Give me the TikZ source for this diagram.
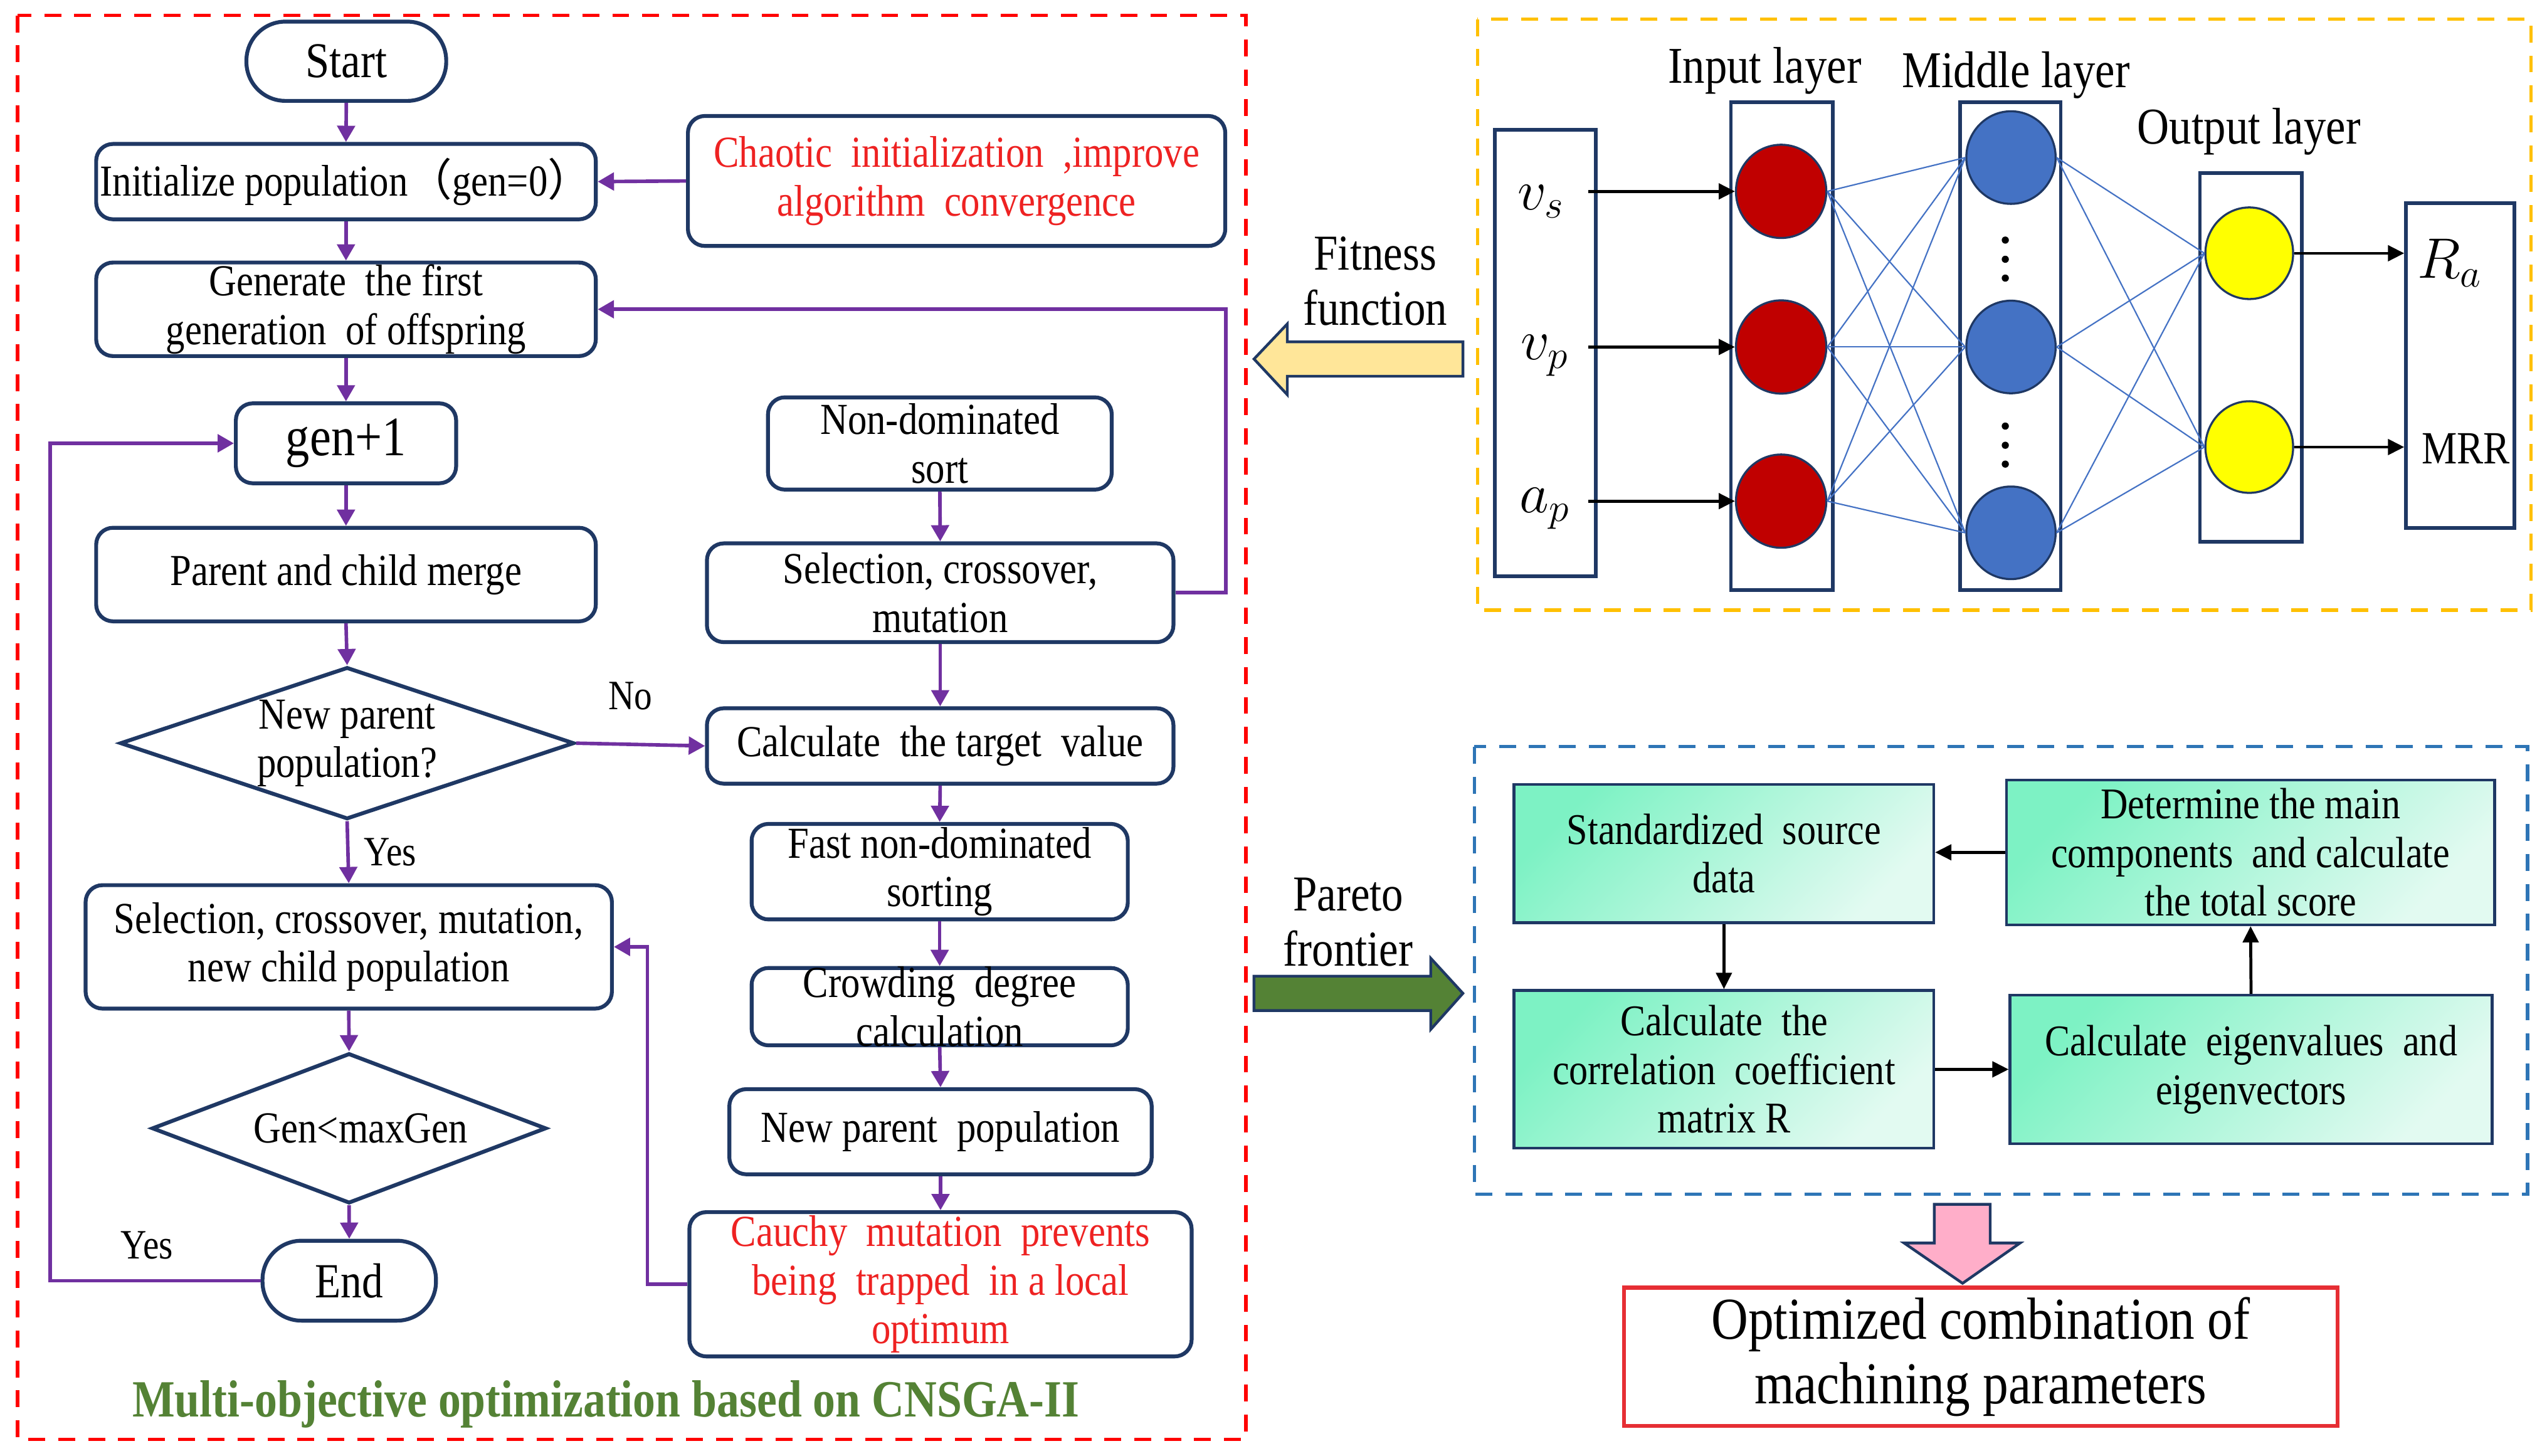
\RequirePackage{fix-cm}
\documentclass[tikz,border=0pt]{standalone}
\usepackage{fontspec}
\setmainfont{Liberation Serif}[FakeStretch=0.86]
\newfontfamily\cjkfont{Noto Sans CJK SC}
\usetikzlibrary{shapes.geometric,arrows.meta}
\definecolor{navy}{RGB}{31,56,100}
\definecolor{cpurple}{RGB}{112,48,160}
\definecolor{cred}{RGB}{255,0,0}
\definecolor{ctred}{RGB}{238,34,34}
\definecolor{cyel}{RGB}{255,192,0}
\definecolor{cblue}{RGB}{46,117,182}
\definecolor{cgreen}{RGB}{84,130,53}
\definecolor{cfit}{RGB}{255,230,153}
\definecolor{cpink}{RGB}{255,174,201}
\definecolor{cbox}{RGB}{230,46,52}
\definecolor{nnred}{RGB}{192,0,0}
\definecolor{nnblue}{RGB}{68,114,196}
\definecolor{nnyel}{RGB}{255,255,0}
\definecolor{cg1}{RGB}{125,242,196}
\definecolor{cg2}{RGB}{226,250,241}
\tikzset{
  fbox/.style={draw=navy, line width=1.7pt, rounded corners=2.6mm, fill=white, inner sep=0.5pt, align=center, font=\fontsize{19.4}{21.3}\selectfont},
  stad/.style={fbox, rounded corners=6mm},
  dia/.style={draw=navy, line width=1.7pt, diamond, inner sep=0pt, fill=white},
  lbl/.style={inner sep=0pt, align=center, font=\fontsize{19.4}{21.3}\selectfont},
  ynlbl/.style={inner sep=0pt, font=\fontsize{18.3}{20}\selectfont},
  parr/.style={draw=cpurple, line width=1.55pt, -{Triangle[length=2.5mm,width=2.7mm]}},
  barr/.style={draw=black, line width=1.3pt, -{Triangle[length=2.5mm,width=2.4mm]}},
  dashframe/.style={line width=1.4pt, dash pattern=on 2.6mm off 2mm},
  nbox/.style={draw=navy, line width=1.6pt, inner sep=0pt},
  ell/.style={ellipse, draw=navy, line width=0.9pt, inner sep=0pt},
  conn/.style={draw=nnblue, line width=0.6pt},
  gbox/.style={draw=navy, line width=1.2pt, top color=cg1, bottom color=cg2, shading angle=45, align=center, inner sep=1pt, font=\fontsize{19.2}{21.3}\selectfont},
  bigl/.style={inner sep=0pt, align=center, font=\fontsize{22}{24.2}\selectfont},
  mathl/.style={inner sep=0pt, font=\fontsize{25}{29}\selectfont},
}
\begin{document}
\begin{tikzpicture}[x=0.25mm,y=-0.25mm]
\useasboundingbox (0,0) rectangle (1568,896);

% frames
\draw[cred, dashframe] (10.8,9.5) rectangle (767,886);
\draw[cyel, dashframe] (909.6,11.8) rectangle (1558,375.6);
\draw[cblue, dashframe] (907.7,459.7) rectangle (1556,735);

% ---------- left flowchart ----------
\node[stad, minimum width=30.75mm, minimum height=12.2mm, font=\fontsize{21.9}{24}\selectfont] (start) at (213.2,37.7) {Start};
\node[fbox, minimum width=76.9mm, minimum height=11.6mm] (init) at (213,111.8) {Initialize population{\cjkfont （}gen=0{\cjkfont ）}};
\node[fbox, minimum width=82.7mm, minimum height=20mm, text=ctred] (chaos) at (588.9,111.4) {Chaotic~ initialization~ ,improve\\algorithm~ convergence};
\node[fbox, minimum width=76.9mm, minimum height=14.4mm] (gen) at (213,190.4) {Generate~ the first\\generation~ of offspring};
\node[fbox, minimum width=33.9mm, minimum height=12.3mm, font=\fontsize{24.4}{26}\selectfont] (genp) at (213,272.9) {gen+1};
\node[fbox, minimum width=76.9mm, minimum height=14.4mm] (merge) at (213,353.7) {Parent and child merge};
\node[dia, minimum width=69.9mm, minimum height=23.4mm, label={[lbl]center:New parent\\population?}] (d1) at (213.7,457.5) {};
\node[fbox, minimum width=81mm, minimum height=19mm] (selc) at (214.7,582.9) {Selection, crossover, mutation,\\new child population};
\node[dia, minimum width=60.7mm, minimum height=23.1mm, label={[lbl,xshift=1.8mm]center:Gen<maxGen}] (d2) at (214.9,694.6) {};
\node[stad, minimum width=26.7mm, minimum height=12.3mm, font=\fontsize{21.5}{24}\selectfont] (end) at (215,788.4) {End};

\node[fbox, minimum width=52.9mm, minimum height=14.2mm] (nds) at (578.6,273) {Non-dominated\\sort};
\node[fbox, minimum width=71.8mm, minimum height=15.2mm] (sel) at (578.8,364.9) {Selection, crossover,\\mutation};
\node[fbox, minimum width=71.8mm, minimum height=11.6mm] (calc) at (578.8,459.2) {Calculate~ the target~ value};
\node[fbox, minimum width=57.9mm, minimum height=14.7mm] (fast) at (578.5,536.6) {Fast non-dominated\\sorting};
\node[fbox, minimum width=57.9mm, minimum height=11.9mm, label={[lbl]center:Crowding~ degree\\calculation}] (crowd) at (578.5,619.7) {};
\node[fbox, minimum width=65mm, minimum height=13.1mm] (newp) at (579,696.7) {New parent~ population};
\node[fbox, minimum width=77.3mm, minimum height=22.2mm, text=ctred] (cauchy) at (579,790.6) {Cauchy~ mutation~ prevents\\being~ trapped~ in a local\\optimum};

\node[inner sep=0pt, anchor=base, text=cgreen, font=\bfseries\fontsize{22.9}{24}\selectfont] (title) at (373,872) {Multi-objective optimization based on CNSGA-II};

% connectors left
\draw[parr] (start.south) -- (init.north);
\draw[parr] (chaos.west) -- (init.east);
\draw[parr] (init.south) -- (gen.north);
\draw[parr] (gen.south) -- (genp.north);
\draw[parr] (genp.south) -- (merge.north);
\draw[parr] (merge.south) -- (d1.north);
\draw[parr] (d1.south) -- node[ynlbl, anchor=west, xshift=2.2mm] {Yes} (selc.north);
\draw[parr] (d1.east) -- node[ynlbl, pos=0.42, above=5mm] {No} (calc.west);
\draw[parr] (selc.south) -- (d2.north);
\draw[parr] (d2.south) -- (end.north);
\draw[parr] (end.west) -- node[ynlbl, pos=0.54, above=3mm] {Yes} ++(-129.5,0) |- (genp.west);
\draw[parr] (nds.south) -- (sel.north);
\draw[parr] (sel.south) -- (calc.north);
\draw[parr] (calc.south) -- (fast.north);
\draw[parr] (fast.south) -- (crowd.north);
\draw[parr] (crowd.south) -- (newp.north);
\draw[parr] (newp.south) -- (cauchy.north);
\draw[parr] (sel.east) -- ++(31,0) |- (gen.east);
\draw[parr] (cauchy.west) -- ++(-24.6,0) |- (selc.east);

% ---------- neural network ----------
\node[nbox, minimum width=15.5mm, minimum height=68.7mm] (vin) at (951.4,217.4) {};
\node[nbox, minimum width=15.7mm, minimum height=75.1mm] (lin) at (1097,213) {};
\node[nbox, minimum width=15.5mm, minimum height=75.1mm] (lmid) at (1237.6,213) {};
\node[nbox, minimum width=15.7mm, minimum height=56.8mm] (lout) at (1385.7,220) {};
\node[nbox, minimum width=16.7mm, minimum height=50mm] (vout) at (1514.6,225) {};

\node[ell, fill=nnred, minimum width=13.9mm, minimum height=14.35mm] (r1) at (1096.5,117.8) {};
\node[ell, fill=nnred, minimum width=13.9mm, minimum height=14.35mm] (r2) at (1096.5,213.6) {};
\node[ell, fill=nnred, minimum width=13.9mm, minimum height=14.35mm] (r3) at (1096.5,308.5) {};
\node[ell, fill=nnblue, minimum width=13.75mm, minimum height=14.25mm] (b1) at (1238,97) {};
\node[ell, fill=nnblue, minimum width=13.75mm, minimum height=14.25mm] (b2) at (1238,213.6) {};
\node[ell, fill=nnblue, minimum width=13.75mm, minimum height=14.25mm] (b3) at (1238,328) {};
\node[ell, fill=nnyel, minimum width=13.5mm, minimum height=14.1mm] (y1) at (1384.7,155.9) {};
\node[ell, fill=nnyel, minimum width=13.5mm, minimum height=14.1mm] (y2) at (1384.7,275.2) {};

\foreach \i in {r1,r2,r3} \foreach \j in {b1,b2,b3} \draw[conn] (\i.east) -- (\j.west);
\foreach \i in {b1,b2,b3} \foreach \j in {y1,y2} \draw[conn] (\i.east) -- (\j.west);

\foreach \yy in {147.8,159.6,171.2,262.3,274.1,285.7} \fill (1234.5,\yy) circle (0.55mm);

\node[mathl] (vs) at (948.6,124) {$v_s$};
\node[mathl] (vp) at (951,219) {$v_p$};
\node[mathl] (ap) at (951,313) {$a_p$};
\node[mathl] (ra) at (1508,162) {$R_a$};
\node[inner sep=0pt, font=\fontsize{20.2}{22}\selectfont] (mrr) at (1518,276.3) {MRR};

\draw[barr] ([xshift=-1.4mm]vin.east |- r1) -- (r1.west);
\draw[barr] ([xshift=-1.4mm]vin.east |- r2) -- (r2.west);
\draw[barr] ([xshift=-1.4mm]vin.east |- r3) -- (r3.west);
\draw[barr] (y1.east) -- (y1.east -| vout.west);
\draw[barr] (y2.east) -- (y2.east -| vout.west);

\node[inner sep=0pt, anchor=base, font=\fontsize{22.6}{24}\selectfont] (tin) at (1086.4,51) {Input layer};
\node[inner sep=0pt, anchor=base, font=\fontsize{22.6}{24}\selectfont] (tmid) at (1241,54) {Middle layer};
\node[inner sep=0pt, anchor=base, font=\fontsize{22.6}{24}\selectfont] (tout) at (1384.5,88.6) {Output layer};

% ---------- big arrows ----------
\filldraw[fill=cfit, draw=navy, line width=1.2pt] (900.6,210.4) -- (792.5,210.4) -- (792.5,199.4) -- (772,221) -- (792.5,243) -- (792.5,231.6) -- (900.6,231.6) -- cycle;
\node[bigl, anchor=north] (fit) at (846.6,145.5) {Fitness\\function};
\filldraw[fill=cgreen, draw=navy, line width=1.2pt] (772,600.9) -- (880.8,600.9) -- (880.8,589.9) -- (900.6,611.5) -- (880.8,633.7) -- (880.8,622.1) -- (772,622.1) -- cycle;
\node[bigl, anchor=north] (par) at (830,540) {Pareto\\frontier};
\filldraw[fill=cpink, draw=navy, line width=1.2pt] (1190.8,741.4) -- (1225.2,741.4) -- (1225.2,765.2) -- (1243.6,765.2) -- (1208.2,790) -- (1172.2,765.2) -- (1190.8,765.2) -- cycle;

% ---------- PCA ----------
\node[gbox, minimum width=64.6mm, minimum height=21.3mm] (std) at (1061.3,525.4) {Standardized~ source\\data};
\node[gbox, minimum width=75.1mm, minimum height=22.3mm] (det) at (1385.5,524.7) {Determine the main\\components~ and calculate\\the total score};
\node[gbox, minimum width=64.6mm, minimum height=24.3mm] (corr) at (1061.3,658.3) {Calculate~ the\\correlation~ coefficient\\matrix R};
\node[gbox, minimum width=74.2mm, minimum height=22.9mm] (eig) at (1385.8,658.4) {Calculate~ eigenvalues~ and\\eigenvectors};
\draw[barr] (det.west) -- (det.west -| std.east);
\draw[barr] (std.south) -- (corr.north);
\draw[barr] (corr.east) -- (corr.east -| eig.west);
\draw[barr] (eig.north) -- (det.south);

\node[draw=cbox, line width=1.7pt, inner sep=1pt, align=center, minimum width=109.8mm, minimum height=21.3mm, font=\fontsize{26}{28.4}\selectfont] (opt) at (1219.4,835.3) {Optimized combination of\\machining parameters};
\end{tikzpicture}
\end{document}
